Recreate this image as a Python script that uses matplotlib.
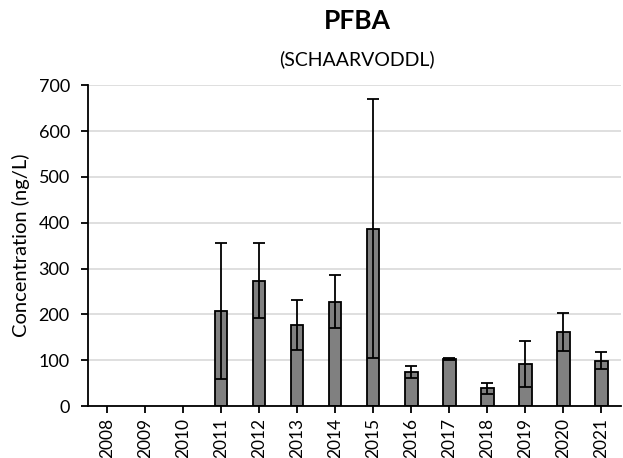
import matplotlib.pyplot as plt
import numpy as np

plt.rcParams['font.family'] = ['Lato', 'DejaVu Sans']

years = ['2008', '2009', '2010', '2011', '2012', '2013', '2014',
         '2015', '2016', '2017', '2018', '2019', '2020', '2021']
values = [0, 0, 0, 207, 273, 177, 228, 387, 74, 103, 39, 92, 161, 99]
errors = [0, 0, 0, 148, 82, 54, 58, 282, 13, 2, 12, 50, 41, 19]
has_data = [False, False, False] + [True] * 11

fig = plt.figure(figsize=(6.23, 4.58), dpi=100)
ax = fig.add_axes([0.141, 0.1135, 0.855, 0.7005])

x = np.arange(len(years))
xs = [xi for xi, h in zip(x, has_data) if h]
vs = [v for v, h in zip(values, has_data) if h]
es = [e for e, h in zip(errors, has_data) if h]

ax.bar(xs, vs, width=0.33, color='#808080', edgecolor='black', linewidth=1.3, zorder=2)
ax.errorbar(xs, vs, yerr=es, fmt='none', ecolor='black', elinewidth=1.3,
            capsize=4, capthick=1.3, zorder=3)

ax.set_xlim(-0.5, len(years) - 0.5)
ax.set_ylim(0, 700)
ax.set_yticks(range(0, 701, 100))
ax.set_xticks(x)
ax.set_xticklabels(years, rotation=90, fontsize=12.5)
ax.tick_params(axis='y', labelsize=13, direction='out', length=5, width=1.3, pad=8)
ax.tick_params(axis='x', direction='out', length=5, width=1.3)
ax.yaxis.grid(True, color='#d9d9d9', linewidth=1.2, zorder=0)
ax.set_axisbelow(True)
for s in ['top', 'right']:
    ax.spines[s].set_visible(False)
for s in ['left', 'bottom']:
    ax.spines[s].set_linewidth(1.3)
ax.set_ylabel('Concentration (ng/L)', fontsize=14.5, labelpad=6)

fig.text(0.573, 0.955, 'PFBA', fontsize=19, fontweight='bold', ha='center', va='center')
fig.text(0.573, 0.87, '(SCHAARVODDL)', fontsize=14, ha='center', va='center')

fig.savefig('out.png', dpi=100)
